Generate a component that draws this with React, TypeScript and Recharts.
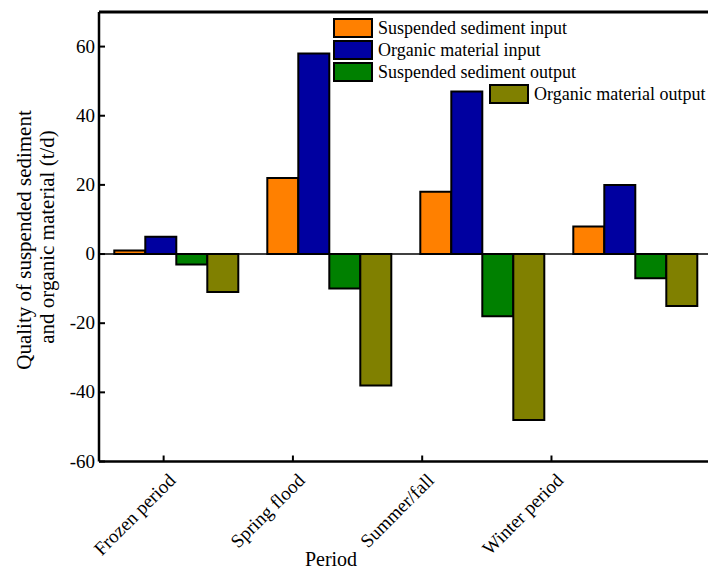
import { BarChart, Bar, XAxis, YAxis, ReferenceLine, Legend } from 'recharts';

const periods = ['Frozen period', 'Spring flood', 'Summer/fall', 'Winter period'];
const tickPos = [1, 2, 3, 4];
const sedimentIn = [1, 22, 18, 8];
const organicIn = [5, 58, 47, 20];
const sedimentOut = [-3, -10, -18, -7];
const organicOut = [-11, -38, -48, -15];
const yTicks = [-60, -40, -20, 0, 20, 40, 60];

const data = periods.map((p, i) => ({
  period: p,
  pos: tickPos[i],
  sedIn: sedimentIn[i],
  orgIn: organicIn[i],
  sedOut: sedimentOut[i],
  orgOut: organicOut[i],
}));

const series = [
  { key: 'sedIn', name: 'Suspended sediment input', color: '#FF8000' },
  { key: 'orgIn', name: 'Organic material input', color: '#0000A0' },
  { key: 'sedOut', name: 'Suspended sediment output', color: '#008000' },
  { key: 'orgOut', name: 'Organic material output', color: '#808000' },
];

const FONT = '"Liberation Serif", "Times New Roman", serif';

const PeriodTick = ({ x, y, payload }: any) => (
  <text
    x={x + 13}
    y={y + 24}
    textAnchor="end"
    fontFamily={FONT}
    fontSize={19}
    fill="#000"
    transform={`rotate(-45, ${x + 13}, ${y + 24})`}
  >
    {periods[payload.value - 1]}
  </text>
);

const ValueTick = ({ x, y, payload }: any) => (
  <text x={x - 8} y={y + 6} textAnchor="end" fontFamily={FONT} fontSize={19} fill="#000">
    {payload.value}
  </text>
);

// legend: three stacked rows, last one shifted right
const legendSpots = [
  { left: 333, top: 18 },
  { left: 333, top: 40 },
  { left: 333, top: 62 },
  { left: 489, top: 84 },
];

const LegendBox = () => (
  <div style={{ position: 'relative', height: 0 }}>
    {series.map((s, i) => (
      <div
        key={s.key}
        style={{
          position: 'absolute',
          left: legendSpots[i].left,
          top: legendSpots[i].top,
          display: 'flex',
          alignItems: 'center',
          whiteSpace: 'nowrap',
        }}
      >
        <div
          style={{
            width: 36,
            height: 16,
            background: s.color,
            border: '2px solid #000',
            marginRight: 5,
          }}
        />
        <span style={{ fontFamily: FONT, fontSize: 18, color: '#000', lineHeight: '20px' }}>
          {s.name}
        </span>
      </div>
    ))}
  </div>
);

export default function App() {
  return (
    <div style={{ position: 'absolute', left: 0, top: 0, width: 708, height: 569, overflow: 'hidden', background: '#fff', fontFamily: FONT }}>
      <BarChart
        width={711}
        height={569}
        data={data}
        margin={{ top: 12, right: 0, left: 0, bottom: 0 }}
        barCategoryGap="10%"
        barGap={0}
      >
        <XAxis xAxisId="bars" dataKey="period" type="category" orientation="top" height={0} hide />
        <XAxis
          xAxisId="labels"
          dataKey="pos"
          type="number"
          domain={[0.5, 5.234]}
          allowDataOverflow
          ticks={tickPos}
          height={107.5}
          axisLine={{ stroke: '#000', strokeWidth: 2.5 }}
          tickLine={{ stroke: '#000', strokeWidth: 2 }}
          tickSize={-6}
          tick={<PeriodTick />}
          label={{ value: 'Period', position: 'insideBottom', offset: 0, dy: -3, dx: -74, fontFamily: FONT, fontSize: 20, fill: '#000' }}
        />
        <YAxis
          domain={[-60, 70]}
          ticks={yTicks}
          width={99}
          axisLine={{ stroke: '#000', strokeWidth: 2.5 }}
          tickLine={{ stroke: '#000', strokeWidth: 2 }}
          tickSize={-6}
          tick={<ValueTick />}
          allowDataOverflow
        />
        <ReferenceLine xAxisId="bars" y={0} stroke="#000" strokeWidth={1.5} />
        <ReferenceLine xAxisId="bars" y={70} stroke="#000" strokeWidth={3} />
        <Legend content={<LegendBox />} wrapperStyle={{ position: 'absolute', left: 0, top: 0, width: 708 }} />
        {series.map((s) => (
          <Bar
            key={s.key}
            xAxisId="bars"
            dataKey={s.key}
            name={s.name}
            fill={s.color}
            stroke="#000"
            strokeWidth={2}
            isAnimationActive={false}
          />
        ))}
        <text fontFamily={FONT} fontSize={21} fill="#000" textAnchor="middle" transform="rotate(-90, 31, 240)">
          <tspan x={31} y={240}>Quality of suspended sediment</tspan>
        </text>
        <text fontFamily={FONT} fontSize={21} fill="#000" textAnchor="middle" transform="rotate(-90, 54, 237)">
          <tspan x={54} y={237}>and organic material (t/d)</tspan>
        </text>
      </BarChart>
    </div>
  );
}
